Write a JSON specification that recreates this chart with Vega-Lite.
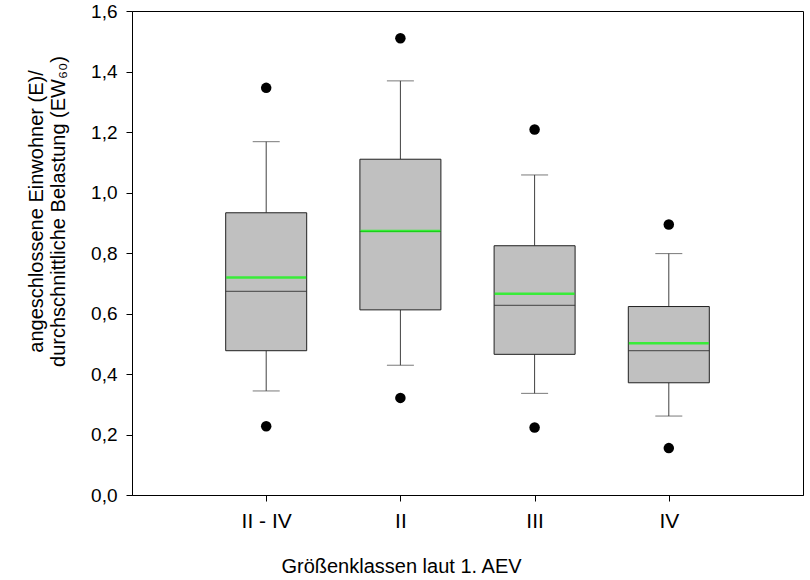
{
  "$schema": "https://vega.github.io/schema/vega-lite/v6.json",
  "autosize": {"type": "none"},
  "padding": {"left": 132, "top": 11, "right": 7, "bottom": 85},
  "width": 671,
  "height": 484,
  "background": "white",
  "config": {
    "view": {"stroke": "black", "strokeWidth": 1},
    "font": "Liberation Sans",
    "axis": {"labelFont": "Liberation Sans", "titleFont": "Liberation Sans", "labelColor": "black", "titleColor": "black", "domainColor": "black", "tickColor": "black", "grid": false, "titleFontWeight": "normal"}
  },
  "data": {
    "values": [
      {"cat": "II - IV", "lo": 0.344, "q1": 0.477, "med": 0.673, "mean": 0.719, "q3": 0.933, "hi": 1.168, "out_lo": 0.227, "out_hi": 1.346},
      {"cat": "II", "lo": 0.429, "q1": 0.612, "med": 0.871, "mean": 0.873, "q3": 1.110, "hi": 1.369, "out_lo": 0.321, "out_hi": 1.510},
      {"cat": "III", "lo": 0.336, "q1": 0.465, "med": 0.627, "mean": 0.665, "q3": 0.824, "hi": 1.058, "out_lo": 0.223, "out_hi": 1.208},
      {"cat": "IV", "lo": 0.261, "q1": 0.371, "med": 0.477, "mean": 0.502, "q3": 0.623, "hi": 0.798, "out_lo": 0.155, "out_hi": 0.894}
    ]
  },
  "encoding": {
    "x": {
      "field": "cat", "type": "nominal", "sort": null,
      "scale": {"type": "point", "padding": 1},
      "axis": {
        "title": "Größenklassen laut 1. AEV",
        "labelAngle": 0, "labelFontSize": 21, "titleFontSize": 20,
        "tickSize": 6, "labelPadding": 9,
        "titleX": 269, "titleY": 77, "titleAlign": "center", "titleBaseline": "alphabetic", "titleAnchor": null
      }
    }
  },
  "layer": [
    {
      "mark": {"type": "rule", "color": "#404040", "strokeWidth": 1},
      "encoding": {
        "y": {"field": "lo", "type": "quantitative", "scale": {"domain": [0, 1.6], "nice": false, "zero": true},
          "axis": {
            "title": ["angeschlossene Einwohner (E)/", "durchschnittliche Belastung (EW₆₀)"],
            "values": [0, 0.2, 0.4, 0.6, 0.8, 1.0, 1.2, 1.4, 1.6],
            "labelExpr": "replace(format(datum.value, '.1f'), '.', ',')",
            "labelFontSize": 19, "titleFontSize": 20, "tickSize": 6, "labelPadding": 9,
            "titleAngle": -90, "titleX": -90, "titleY": 200, "titleAlign": "center", "titleBaseline": "alphabetic", "titleLineHeight": 22, "titleAnchor": null
          }},
        "y2": {"field": "q1"}
      }
    },
    {
      "mark": {"type": "rule", "color": "#404040", "strokeWidth": 1},
      "encoding": {"y": {"field": "q3", "type": "quantitative"}, "y2": {"field": "hi"}}
    },
    {
      "mark": {"type": "tick", "color": "#404040", "thickness": 1, "size": 27},
      "encoding": {"y": {"field": "lo", "type": "quantitative"}}
    },
    {
      "mark": {"type": "tick", "color": "#404040", "thickness": 1, "size": 27},
      "encoding": {"y": {"field": "hi", "type": "quantitative"}}
    },
    {
      "mark": {"type": "bar", "size": 81, "fill": "#c0c0c0", "stroke": "#202020", "strokeWidth": 1},
      "encoding": {"y": {"field": "q1", "type": "quantitative"}, "y2": {"field": "q3"}}
    },
    {
      "mark": {"type": "tick", "color": "#303030", "thickness": 1.2, "size": 81},
      "encoding": {"y": {"field": "med", "type": "quantitative"}}
    },
    {
      "mark": {"type": "tick", "color": "#00ff00", "thickness": 2.5, "size": 80},
      "encoding": {"y": {"field": "mean", "type": "quantitative"}}
    },
    {
      "mark": {"type": "point", "filled": true, "color": "black", "opacity": 1, "size": 110},
      "encoding": {"y": {"field": "out_lo", "type": "quantitative"}}
    },
    {
      "mark": {"type": "point", "filled": true, "color": "black", "opacity": 1, "size": 110},
      "encoding": {"y": {"field": "out_hi", "type": "quantitative"}}
    }
  ]
}
